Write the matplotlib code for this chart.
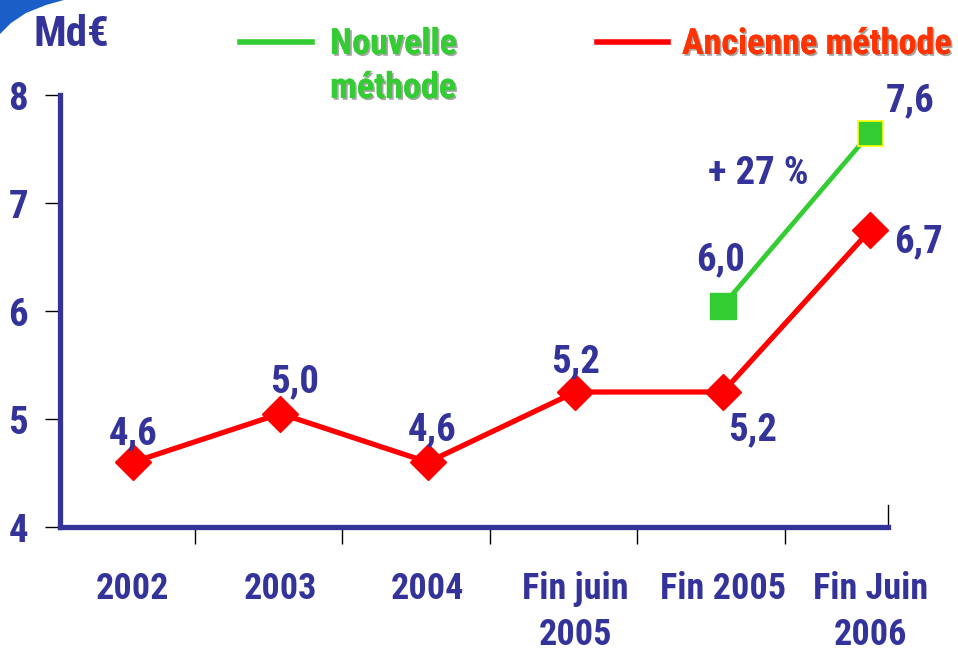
import matplotlib
matplotlib.use("Agg")
import matplotlib.pyplot as plt
import matplotlib.patheffects as pe
from matplotlib.lines import Line2D
from matplotlib.patches import Polygon
from matplotlib import font_manager

# ── Data ────────────────────────────────────────────────────────────────────
categories = ["2002", "2003", "2004", "Fin juin\n2005", "Fin 2005", "Fin Juin\n2006"]
ancienne = [4.6, 5.05, 4.6, 5.25, 5.25, 6.75]
ancienne_labels = ["4,6", "5,0", "4,6", "5,2", "5,2", "6,7"]
nouvelle_x = [4, 5]
nouvelle = [6.05, 7.65]
nouvelle_labels = ["6,0", "7,6"]
yticks = [4, 5, 6, 7, 8]

NAVY = "#333399"
RED = "#FF0000"
GREEN = "#33CC33"
ORANGE = "#FF3300"

# pick a narrow font if one is installed
fonts = font_manager.fontManager.ttflist
names = {f.name for f in fonts}
FONT = "DejaVu Sans"
for cand in ["Liberation Sans Narrow", "Roboto Condensed", "Open Sans Condensed",
             "Noto Sans Condensed", "DejaVu Sans Condensed"]:
    if cand in names:
        FONT = cand
        break
narrow = FONT != "DejaVu Sans"
has_cond = any(f.name == "DejaVu Sans" and f.stretch == "condensed" for f in fonts)
plt.rcParams["font.family"] = [FONT, "DejaVu Sans"]
plt.rcParams["font.weight"] = "bold"
plt.rcParams["font.stretch"] = "condensed"
S = 1.0 if narrow else (0.88 if has_cond else 0.8)

W, H = 958, 653
fig = plt.figure(figsize=(W / 100, H / 100), dpi=100)
ax = fig.add_axes([60 / W, (H - 527) / H, (888 - 60) / W, (527 - 95) / H])

x = list(range(len(categories)))
ax.plot(x, ancienne, color=RED, lw=3.8, marker="D", ms=18, mfc=RED, mec=RED,
        zorder=3)
ax.plot(nouvelle_x, nouvelle, color=GREEN, lw=3.4, zorder=3)
ax.plot(nouvelle_x[0], nouvelle[0], marker="s", ms=19, mfc=GREEN, mec=GREEN, zorder=4)
ax.plot(nouvelle_x[1], nouvelle[1], marker="s", ms=18, mfc=GREEN, mec="#FFFF00",
        mew=1.2, zorder=4)

ax.set_xlim(-0.495, 5.12)
ax.set_ylim(4, 8)

FS = 28 * S
# data labels (offsets in pixels)
lbl_off = [(0, 28), (14, 32), (4, 32), (0, 30), (30, -38), (48, -12)]
for xi, yi, s, (dx, dy) in zip(x, ancienne, ancienne_labels, lbl_off):
    ax.annotate(s, (xi, yi), xytext=(dx, dy), textcoords="offset pixels",
                ha="center", va="center", fontsize=FS, color=NAVY, fontweight="bold")
for xi, yi, s, (dx, dy) in zip(nouvelle_x, nouvelle, nouvelle_labels, [(-2, 46), (40, 32)]):
    ax.annotate(s, (xi, yi), xytext=(dx, dy), textcoords="offset pixels",
                ha="center", va="center", fontsize=FS, color=NAVY, fontweight="bold")
ax.annotate("+ 27 %", (nouvelle_x[0], nouvelle[0]), xytext=(35, 132),
            textcoords="offset pixels", ha="center", va="center",
            fontsize=FS, color=NAVY, fontweight="bold")

# axes styling
for side in ["top", "right"]:
    ax.spines[side].set_visible(False)
for side in ["left", "bottom"]:
    ax.spines[side].set_color(NAVY)
    ax.spines[side].set_linewidth(3.8)
    ax.spines[side].set_capstyle("projecting")

ax.set_yticks(yticks)
ax.set_yticklabels([str(v) for v in yticks], fontsize=FS, color=NAVY, fontweight="bold")
ax.tick_params(axis="y", direction="out", length=11, width=1, color="black", pad=12)

ax.set_xticks(x)
ax.set_xticklabels(categories, fontsize=26 * S, color=NAVY, fontweight="bold",
                   linespacing=1.33, va="top")
ax.tick_params(axis="x", length=0, pad=32)
ax.set_xticks([i + 0.42 for i in range(5)], minor=True)
ax.tick_params(axis="x", which="minor", direction="out", length=12, width=1, color="black")
ax.axvline(5.12, ymin=0, ymax=0.05, color="black", lw=1, clip_on=False)

# unit label
fig.text(33 / W, 1 - 35 / H, "Md€", fontsize=31 * S, color=NAVY, fontweight="bold",
         ha="left", va="center")

# legend
shadow = [pe.withSimplePatchShadow(offset=(1.3, -1.3), shadow_rgbFace="#808080", alpha=0.7),
          pe.Normal()]
LS = 26 * S
fig.add_artist(Line2D([240 / W, 312 / W], [1 - 42 / H] * 2, color=GREEN, lw=4))
fig.add_artist(Line2D([597 / W, 668 / W], [1 - 42 / H] * 2, color=RED, lw=4))
fig.text(330 / W, 1 - 44 / H, "Nouvelle", fontsize=LS, color=GREEN, fontweight="bold",
         ha="left", va="center", path_effects=shadow)
fig.text(330 / W, 1 - 88 / H, "méthode", fontsize=LS, color=GREEN, fontweight="bold",
         ha="left", va="center", path_effects=shadow)
fig.text(682 / W, 1 - 44 / H, "Ancienne méthode", fontsize=LS, color=ORANGE,
         fontweight="bold", ha="left", va="center", path_effects=shadow)

# blue corner swoosh
pts = [(0, 0), (64, 0), (46, 5), (26, 13), (11, 23), (0, 34)]
fig.add_artist(Polygon([(px / W, 1 - py / H) for px, py in pts], closed=True,
                       transform=fig.transFigure, color="#1A5FC8", lw=0))

fig.savefig("out.png", dpi=100)
